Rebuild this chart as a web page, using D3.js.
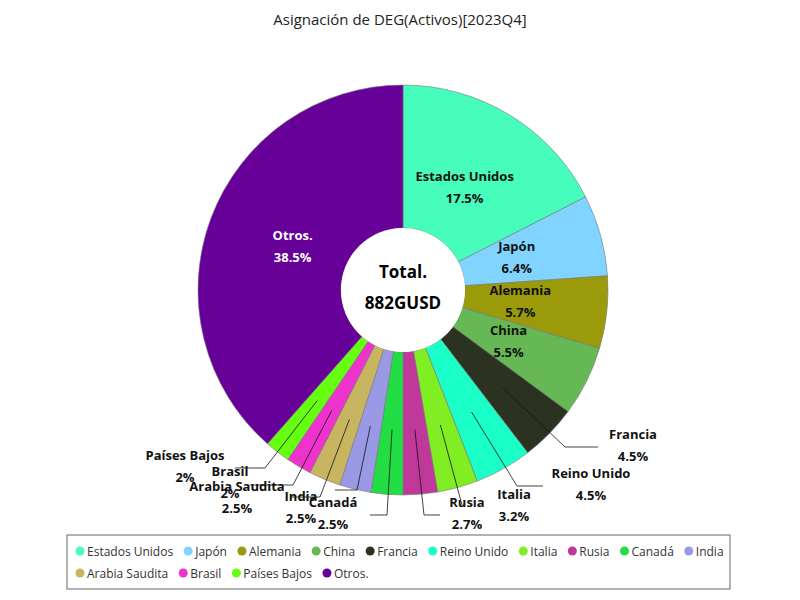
<!DOCTYPE html>
<html>
<head>
<meta charset="utf-8">
<script src="https://cdn.jsdelivr.net/npm/d3@7"></script>
<style>
  body { margin: 0; background: #fff; }
  text { font-family: "Open Sans", "Noto Sans", sans-serif; }
</style>
</head>
<body>
<svg id="chart" width="800" height="600"></svg>
<script>
// Data
var countries = ["Estados Unidos", "Japón", "Alemania", "China", "Francia", "Reino Unido", "Italia",
  "Rusia", "Canadá", "India", "Arabia Saudita", "Brasil", "Países Bajos", "Otros."];
var shares = [17.5, 6.4, 5.7, 5.5, 4.5, 4.5, 3.2, 2.7, 2.5, 2.5, 2.5, 2, 2, 38.5];
var colors = ["#47fdbb", "#80d4ff", "#9a9a0a", "#66b855", "#2b3320", "#1affc8", "#80ee22",
  "#c0399a", "#22dd44", "#9a99e6", "#c8b560", "#ee33cc", "#66ff11", "#660099"];
var totalLabel = ["Total.", "882GUSD"];

// Label placement for the small slices (leader line elbow and text position)
var outside = {
  "Francia":        { elbow: [565, 447], end: [598, 447], text: [633, 435] },
  "Reino Unido":    { elbow: [517, 486], end: [543, 486], text: [591, 474] },
  "Italia":         { elbow: [462, 505], end: [462, 505], text: [514, 495] },
  "Rusia":          { elbow: [424, 515], end: [440, 515], text: [467, 503] },
  "Canadá":         { elbow: [387, 515], end: [370, 515], text: [333, 503] },
  "India":          { elbow: [357, 490], end: [335, 490], text: [301, 497] },
  "Arabia Saudita": { elbow: [320, 497], end: [290, 497], text: [237, 487] },
  "Brasil":         { elbow: [293, 485], end: [250, 485], text: [230, 472] },
  "Países Bajos":   { elbow: [265, 468], end: [235, 468], text: [185, 456] }
};

var svg = d3.select("#chart");
var cx = 403, cy = 290, outerR = 205, innerR = 62;

svg.append("text").attr("x", 400).attr("y", 25).attr("text-anchor", "middle")
  .style("font-size", "15px").attr("fill", "#222").text("Asignación de DEG(Activos)[2023Q4]");

var data = countries.map((c, i) => ({ name: c, value: shares[i], color: colors[i] }));
var pie = d3.pie().value(d => d.value).sort(null);
var arc = d3.arc().innerRadius(innerR).outerRadius(outerR);
var labelArc = d3.arc().innerRadius(112).outerRadius(124);
var lineArc = d3.arc().innerRadius(140).outerRadius(140);

var g = svg.append("g").attr("transform", `translate(${cx},${cy})`);
var arcs = pie(data);

g.selectAll("path").data(arcs).enter().append("path")
  .attr("d", arc).attr("fill", d => d.data.color)
  .attr("stroke", "#777").attr("stroke-width", 0.6);

// Center
g.append("circle").attr("r", innerR).attr("fill", "#fff");
g.append("text").attr("y", -12).attr("text-anchor", "middle").style("font-size", "17px")
  .style("font-weight", "bold").text(totalLabel[0]);
g.append("text").attr("y", 19).attr("text-anchor", "middle").style("font-size", "17px")
  .style("font-weight", "bold").text(totalLabel[1]);

// Labels
arcs.forEach(d => {
  var pct = d.data.value + "%";
  var o = outside[d.data.name];
  if (!o) {
    var c = labelArc.centroid(d);
    var fill = d.data.name === "Otros." ? "#fff" : "#111";
    [d.data.name, pct].forEach((t, k) => {
      g.append("text").attr("x", c[0]).attr("y", c[1] - 8 + k * 22).attr("text-anchor", "middle")
        .style("font-size", "13px").style("font-weight", "bold").attr("fill", fill).text(t);
    });
  } else {
    var s = lineArc.centroid(d);
    var pts = [[cx + s[0], cy + s[1]], o.elbow, o.end];
    svg.append("polyline").attr("points", pts.map(p => p.join(",")).join(" "))
      .attr("fill", "none").attr("stroke", "#111").attr("stroke-width", 0.8);
    [d.data.name, pct].forEach((t, k) => {
      svg.append("text").attr("x", o.text[0]).attr("y", o.text[1] + 4 + k * 22).attr("text-anchor", "middle")
        .style("font-size", "13px").style("font-weight", "bold").attr("fill", "#111").text(t);
    });
  }
});

// Legend
svg.append("rect").attr("x", 67).attr("y", 535).attr("width", 663).attr("height", 54)
  .attr("fill", "#fff").attr("stroke", "#666").attr("stroke-width", 1);
var lx = 80, ly = 551;
data.forEach(d => {
  var label = svg.append("text").style("font-size", "12px").attr("fill", "#333").text(d.name);
  var tw = label.node().getComputedTextLength();
  if (lx + tw + 8 > 725) { lx = 80; ly += 22; }
  svg.append("circle").attr("cx", lx).attr("cy", ly).attr("r", 4.5).attr("fill", d.color);
  label.attr("x", lx + 7).attr("y", ly + 4.5);
  lx += tw + 22;
});
</script>
</body>
</html>
